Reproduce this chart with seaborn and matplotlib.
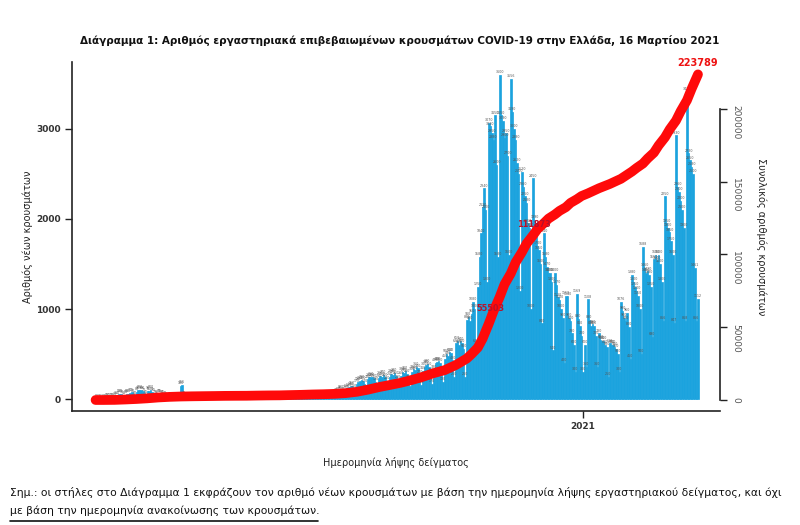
import numpy as np
import pandas as pd
import seaborn as sns
import matplotlib.pyplot as plt
from matplotlib import font_manager
from matplotlib.lines import Line2D

# new cases per day (sample date), month by month
feb_2020 = [1, 2, 1, 0]
mar_2020 = [3, 5, 8, 10, 14, 20, 18, 12, 30, 35, 40, 55, 60, 50, 35, 50, 55, 60, 70, 75, 60, 40,
            80, 95, 100, 95, 90, 70, 45, 90, 85]
apr_2020 = [100, 80, 65, 50, 35, 60, 55, 50, 45, 40, 30, 20, 30, 25, 25, 20, 20, 15, 10,
            150, 155, 40, 30, 25, 15, 10, 15, 12, 10, 10]
may_2020 = [8, 5, 3, 10, 8, 10, 8, 6, 4, 2, 8, 10, 12, 10, 8, 5, 3, 10, 8, 10, 12, 8, 5, 2,
            6, 8, 10, 8, 10, 6, 3]
jun_2020 = [8, 10, 6, 12, 10, 8, 4, 15, 20, 18, 12, 10, 8, 5, 12, 15, 20, 18, 15, 10, 6,
            20, 25, 18, 22, 15, 12, 8, 15, 18]
jul_2020 = [20, 25, 20, 15, 10, 20, 25, 30, 28, 25, 20, 12, 25, 30, 28, 35, 30, 25, 15,
            35, 40, 45, 50, 40, 35, 20, 60, 70, 80, 90, 100]
aug_2020 = [80, 50, 100, 120, 130, 140, 150, 120, 70, 170, 190, 200, 210, 200, 170, 100,
            220, 240, 250, 240, 230, 190, 110, 230, 260, 250, 270, 240, 200, 120, 250]
sep_2020 = [280, 270, 290, 260, 210, 130, 260, 300, 290, 310, 280, 220, 140, 300, 330, 320, 360,
            340, 270, 160, 310, 360, 380, 390, 360, 290, 170, 330, 400, 410]
oct_2020 = [420, 400, 310, 190, 450, 500, 480, 520, 510, 430, 250, 620, 650, 600, 640, 620, 560,
            250, 880, 910, 870, 950, 1080, 1000, 620, 1250, 1580, 1840, 2130, 2340, 2100]
nov_2020 = [1300, 3070, 3030, 2950, 2880, 3150, 2600, 1580, 3600, 3150, 3090, 2900, 2950, 2700,
            1600, 3556, 3190, 3000, 2880, 2620, 2500, 1200, 2520, 2360, 2250, 2180, 1950, 1900,
            1000, 2450]
dec_2020 = [1990, 1830, 1700, 1650, 1500, 840, 1840, 1580, 1470, 1400, 1400, 1300, 540, 1400, 1270,
            1130, 1100, 1000, 900, 400, 1150, 1140, 900, 870, 730, 600, 300, 1169, 890, 810, 700]
jan_2021 = [300, 600, 360, 1108, 880, 810, 830, 810, 700, 360, 730, 660, 650, 650, 600, 580, 250,
            620, 600, 600, 580, 560, 500, 300, 1076, 980, 900, 870, 960, 800, 450]
feb_2021 = [1380, 1300, 1250, 1200, 1150, 1000, 500, 1688, 1460, 1400, 1420, 1380, 1250, 690,
            1551, 1600, 1540, 1600, 1500, 1300, 866, 2250, 1950, 1900, 1850, 1750, 1600, 847]
mar_2021 = [2930, 2360, 2300, 2200, 2100, 1900, 868, 3410, 2730, 2650, 2580, 2500, 1461, 866, 1112]

# cumulative total (red line)
cum_dates = ["2020-02-26", "2020-03-02", "2020-03-09", "2020-03-16", "2020-03-23", "2020-03-30",
             "2020-04-06", "2020-04-13", "2020-04-20", "2020-04-27", "2020-05-04", "2020-05-11",
             "2020-05-18", "2020-05-25", "2020-06-01", "2020-06-08", "2020-06-15", "2020-06-22",
             "2020-06-29", "2020-07-06", "2020-07-13", "2020-07-20", "2020-07-27", "2020-08-03",
             "2020-08-10", "2020-08-17", "2020-08-24", "2020-08-31", "2020-09-07", "2020-09-14",
             "2020-09-21", "2020-09-28", "2020-10-05", "2020-10-12", "2020-10-19", "2020-10-22",
             "2020-10-26", "2020-10-29", "2020-11-02", "2020-11-05", "2020-11-09", "2020-11-12",
             "2020-11-16", "2020-11-19", "2020-11-23", "2020-11-26", "2020-11-30", "2020-12-03",
             "2020-12-07", "2020-12-10", "2020-12-14", "2020-12-17", "2020-12-21", "2020-12-24",
             "2020-12-28", "2020-12-31", "2021-01-04", "2021-01-11", "2021-01-18", "2021-01-25",
             "2021-02-01", "2021-02-04", "2021-02-08", "2021-02-11", "2021-02-15", "2021-02-18",
             "2021-02-22", "2021-02-25", "2021-03-01", "2021-03-04", "2021-03-08", "2021-03-11",
             "2021-03-15"]
cum_totals = [0, 7, 73, 352, 695, 1156, 1755, 2145, 2401, 2534, 2632, 2726, 2836, 2882, 2918,
              3049, 3148, 3203, 3390, 3562, 3803, 3964, 4227, 4737, 5623, 7075, 8819, 10317,
              11832, 13730, 15928, 18475, 20541, 24000, 28500, 31500, 36000, 42000, 52500, 61000,
              71000, 79500, 87000, 94500, 101500, 107500, 113000, 117500, 121500, 124700, 127500,
              130000, 132500, 135500, 138000, 140200, 142000, 145500, 148500, 152000, 157000,
              159500, 162500, 166000, 170000, 175000, 180500, 186000, 192000, 198500, 206000,
              214000, 223789]

milestone_values = [55503, 111873, 223789]
milestone_dates = ["2020-11-03", "2020-11-29", "2021-03-15"]

left_ticks = [0, 1000, 2000, 3000]
right_ticks = [0, 50000, 100000, 150000, 200000]

title = "Διάγραμμα 1: Αριθμός εργαστηριακά επιβεβαιωμένων κρουσμάτων COVID-19 στην Ελλάδα, 16 Μαρτίου 2021"
note1 = ("Σημ.: οι στήλες στο Διάγραμμα 1 εκφράζουν τον αριθμό νέων κρουσμάτων με βάση την ημερομηνία "
         "λήψης εργαστηριακού δείγματος, και όχι")
note2 = "με βάση την ημερομηνία ανακοίνωσης των κρουσμάτων."

new_cases = (feb_2020 + mar_2020 + apr_2020 + may_2020 + jun_2020 + jul_2020 + aug_2020 + sep_2020
             + oct_2020 + nov_2020 + dec_2020 + jan_2021 + feb_2021 + mar_2021)
start = pd.Timestamp("2020-02-26")
daily = pd.DataFrame({"day": np.arange(len(new_cases)), "cases": new_cases})
cum = pd.DataFrame({"date": pd.to_datetime(cum_dates), "total": cum_totals})
cum["day"] = (cum["date"] - start).dt.days
pos_2021 = (pd.Timestamp("2021-01-01") - start).days

sns.set_theme(style="white")
plt.rcParams["font.family"] = ["DejaVu Sans"]
installed = {f.name for f in font_manager.fontManager.ttflist}
narrow = "Liberation Sans Narrow" if "Liberation Sans Narrow" in installed else "DejaVu Sans"
nscale = 1.0 if narrow == "Liberation Sans Narrow" else 0.78
bar_blue = "#1ba3de"

fig = plt.figure(figsize=(8, 5.25), dpi=100)
ax = fig.add_axes([72 / 800, 1 - 411 / 525, 648 / 800, 349 / 525])

sns.barplot(data=daily, x="day", y="cases", native_scale=True, color=bar_blue, saturation=1,
            width=1, linewidth=0.5, edgecolor=bar_blue, errorbar=None, ax=ax)
ax.bar_label(ax.containers[0], fontsize=2.3, color="#555555", padding=0.5)

ax.set_xlim(-15, 397)
ax.set_ylim(-133, 3744)
ax.set_xticks([pos_2021])
ax.set_xticklabels(["2021"])
ax.set_yticks(left_ticks)
ax.set_yticklabels([str(t) for t in left_ticks])
ax.tick_params(axis="both", direction="out", length=5, width=1, color="#222222",
               labelsize=6.5, labelcolor="#333333", left=True, bottom=True, pad=3)
for lbl in ax.get_yticklabels() + ax.get_xticklabels():
    lbl.set_fontweight("bold")
ax.set_xlabel("Ημερομηνία λήψης δείγματος", fontsize=7, color="#222222")
ax.set_ylabel("Αριθμός νέων κρουσμάτων", fontsize=7, color="#222222")
ax.xaxis.set_label_coords(0.5, -0.132)
ax.yaxis.set_label_coords(-0.06, 0.5)
for side in ["top", "right"]:
    ax.spines[side].set_visible(False)
for side in ["left", "bottom"]:
    ax.spines[side].set_color("#222222")
    ax.spines[side].set_linewidth(1.2)

ax2 = ax.twinx()
sns.lineplot(data=cum, x="day", y="total", color="#ff0a0a", linewidth=7, ax=ax2,
             solid_capstyle="round", solid_joinstyle="round")
ax2.set_ylim(-7560, 232300)
ax2.set_yticks(right_ticks)
ax2.set_yticklabels([str(t) for t in right_ticks])
ax2.tick_params(axis="y", direction="out", length=5, width=1, color="#222222", labelsize=6.5,
                labelcolor="#555555", labelrotation=-90, right=True, pad=3)
ax2.set_ylabel("Συνολικός αριθμός κρουσμάτων", fontsize=7, color="#222222", rotation=270)
ax2.yaxis.set_label_coords(1.0725, 0.5)
ax2.set_xlabel("")
for side in ["top", "left", "bottom"]:
    ax2.spines[side].set_visible(False)
ax2.spines["right"].set_bounds(0, 200000)
ax2.spines["right"].set_color("#222222")
ax2.spines["right"].set_linewidth(1.2)

# milestone labels on the cumulative line
offsets = [(0, 8), (2, 9), (0, 8)]
for val, dt, off in zip(milestone_values, milestone_dates, offsets):
    d = (pd.Timestamp(dt) - start).days
    last = val == milestone_values[-1]
    ax2.annotate(str(val), (d, val), xytext=off, textcoords="offset points", ha="center",
                 va="center", fontsize=(9 if last else 7.5) * nscale, fontweight="bold",
                 color="#ee1111" if last else "#b8102a", family=[narrow, "DejaVu Sans"])

fig.text(0.5, 1 - 40 / 525, title, ha="center", va="center", fontsize=9.6 * nscale,
         fontweight="bold", family=[narrow, "DejaVu Sans"], color="#111111")
fig.text(10 / 800, 1 - 493 / 525, note1, ha="left", va="center", fontsize=9.95 * nscale,
         family=[narrow, "DejaVu Sans"], color="#111111")
fig.text(10 / 800, 1 - 511 / 525, note2, ha="left", va="center", fontsize=9.95 * nscale,
         family=[narrow, "DejaVu Sans"], color="#111111")
fig.add_artist(Line2D([10 / 800, 318 / 800], [1 - 521 / 525] * 2, color="#111111", lw=1.2))

fig.savefig("out.png", dpi=100)
